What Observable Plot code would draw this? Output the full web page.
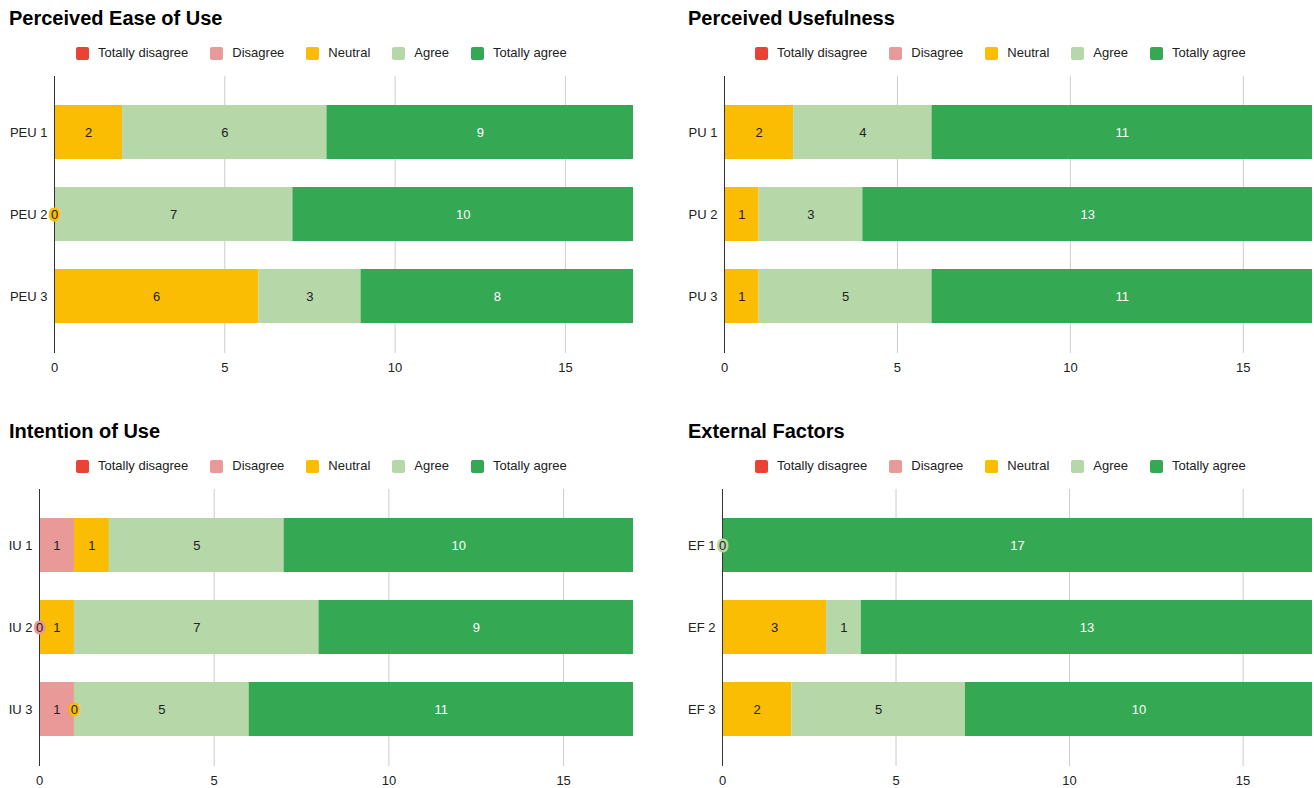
<!DOCTYPE html>
<html>
<head>
<meta charset="utf-8">
<script src="https://cdn.jsdelivr.net/npm/d3@7"></script>
<script src="https://cdn.jsdelivr.net/npm/@observablehq/plot@0.6"></script>
<style>
  body { margin: 0; background: #fff; }
  #root { position: relative; width: 1314px; height: 788px; overflow: hidden; background: #fff; }
  .title { position: absolute; font: bold 20px "Liberation Sans", Arial, sans-serif; color: #000; line-height: 24px; white-space: nowrap; }
  .legend { position: absolute; display: flex; gap: 22px; font: 13px "Liberation Sans", Arial, sans-serif; color: #222; line-height: 16px; white-space: nowrap; }
  .legend .item { display: flex; align-items: center; }
  .legend .sw { width: 13px; height: 13px; border-radius: 2px; margin-right: 9px; }
  .chart { position: absolute; }
</style>
</head>
<body>
<div id="root"></div>
<script>
// ---- Data ----
const stances = ["Totally disagree", "Disagree", "Neutral", "Agree", "Totally agree"];
const stanceColors = ["#ea4335", "#ea9999", "#fbbc04", "#b6d7a8", "#34a853"];
const xTicks = [0, 5, 10, 15];

const peuTitle = "Perceived Ease of Use";
const peuItems = ["PEU 1", "PEU 2", "PEU 3"];
const peuTotallyDisagree = [null, null, null];
const peuDisagree = [null, null, null];
const peuNeutral = [2, 0, 6];
const peuAgree = [6, 7, 3];
const peuTotallyAgree = [9, 10, 8];

const puTitle = "Perceived Usefulness";
const puItems = ["PU 1", "PU 2", "PU 3"];
const puTotallyDisagree = [null, null, null];
const puDisagree = [null, null, null];
const puNeutral = [2, 1, 1];
const puAgree = [4, 3, 5];
const puTotallyAgree = [11, 13, 11];

const iuTitle = "Intention of Use";
const iuItems = ["IU 1", "IU 2", "IU 3"];
const iuTotallyDisagree = [null, null, null];
const iuDisagree = [1, 0, 1];
const iuNeutral = [1, 1, 0];
const iuAgree = [5, 7, 5];
const iuTotallyAgree = [10, 9, 11];

const efTitle = "External Factors";
const efItems = ["EF 1", "EF 2", "EF 3"];
const efTotallyDisagree = [null, null, null];
const efDisagree = [null, null, null];
const efNeutral = [null, 3, 2];
const efAgree = [0, 1, 5];
const efTotallyAgree = [17, 13, 10];

// ---- Build ----
function rows(items, series) {
  const out = [];
  items.forEach((item, i) => {
    series.forEach((vals, s) => {
      const v = vals[i];
      if (v !== null && v !== undefined) out.push({item, stance: stances[s], value: v});
    });
  });
  return out;
}

const root = document.getElementById("root");

function panel(cfg) {
  const {title, items, series, left, top, width, marginLeft, marginRight, legendLeft} = cfg;
  const t = document.createElement("div");
  t.className = "title";
  t.style.left = (left + 9) + "px";
  t.style.top = (top + 6) + "px";
  t.textContent = title;
  root.appendChild(t);

  const lg = document.createElement("div");
  lg.className = "legend";
  lg.style.left = (left + legendLeft) + "px";
  lg.style.top = (top + 45) + "px";
  stances.forEach((s, i) => {
    const it = document.createElement("div");
    it.className = "item";
    const sw = document.createElement("div");
    sw.className = "sw";
    sw.style.background = stanceColors[i];
    it.appendChild(sw);
    const tx = document.createElement("span");
    tx.textContent = s;
    it.appendChild(tx);
    lg.appendChild(it);
  });
  root.appendChild(lg);

  const data = rows(items, series);
  const stackOpts = (extra) => Plot.stackX({x: "value", y: "item", z: "stance", order: stances, ...extra});

  const chart = Plot.plot({
    width,
    height: 313,
    marginTop: 6,
    marginBottom: 30,
    marginLeft,
    marginRight,
    style: {fontFamily: "'Liberation Sans', Arial, sans-serif", fontSize: "13px", color: "#222", background: "transparent"},
    x: {ticks: xTicks, tickSize: 0, tickPadding: 9, label: null, tickFormat: d => String(d)},
    y: {domain: items, padding: 0.34, tickSize: 0, tickPadding: 7, label: null},
    color: {domain: stances, range: stanceColors},
    marks: [
      Plot.ruleX(xTicks, {stroke: "#cccccc", strokeWidth: 1}),
      Plot.barX(data, stackOpts({fill: "stance"})),
      Plot.ruleX([0], {stroke: "#333333", strokeWidth: 1}),
      Plot.text(data, stackOpts({
        text: d => (d.value > 0 && d.stance !== "Totally agree") ? String(d.value) : "",
        fill: "#222"
      })),
      Plot.text(data, stackOpts({
        text: d => (d.value > 0 && d.stance === "Totally agree") ? String(d.value) : "",
        fill: "#ffffff"
      })),
      Plot.text(data, stackOpts({
        text: d => d.value === 0 ? "0" : "",
        fill: "#222",
        stroke: "stance",
        strokeWidth: 5,
        strokeLinejoin: "round"
      }))
    ]
  });
  chart.classList.add("chart");
  chart.style.left = left + "px";
  chart.style.top = (top + 70) + "px";
  root.appendChild(chart);
}

panel({title: peuTitle, items: peuItems,
  series: [peuTotallyDisagree, peuDisagree, peuNeutral, peuAgree, peuTotallyAgree],
  left: 0, top: 0, width: 657, marginLeft: 54, marginRight: 24, legendLeft: 76});
panel({title: puTitle, items: puItems,
  series: [puTotallyDisagree, puDisagree, puNeutral, puAgree, puTotallyAgree],
  left: 679, top: 0, width: 635, marginLeft: 45, marginRight: 2, legendLeft: 76});
panel({title: iuTitle, items: iuItems,
  series: [iuTotallyDisagree, iuDisagree, iuNeutral, iuAgree, iuTotallyAgree],
  left: 0, top: 413, width: 657, marginLeft: 39, marginRight: 24, legendLeft: 76});
panel({title: efTitle, items: efItems,
  series: [efTotallyDisagree, efDisagree, efNeutral, efAgree, efTotallyAgree],
  left: 679, top: 413, width: 635, marginLeft: 43, marginRight: 2, legendLeft: 76});
</script>
</body>
</html>
